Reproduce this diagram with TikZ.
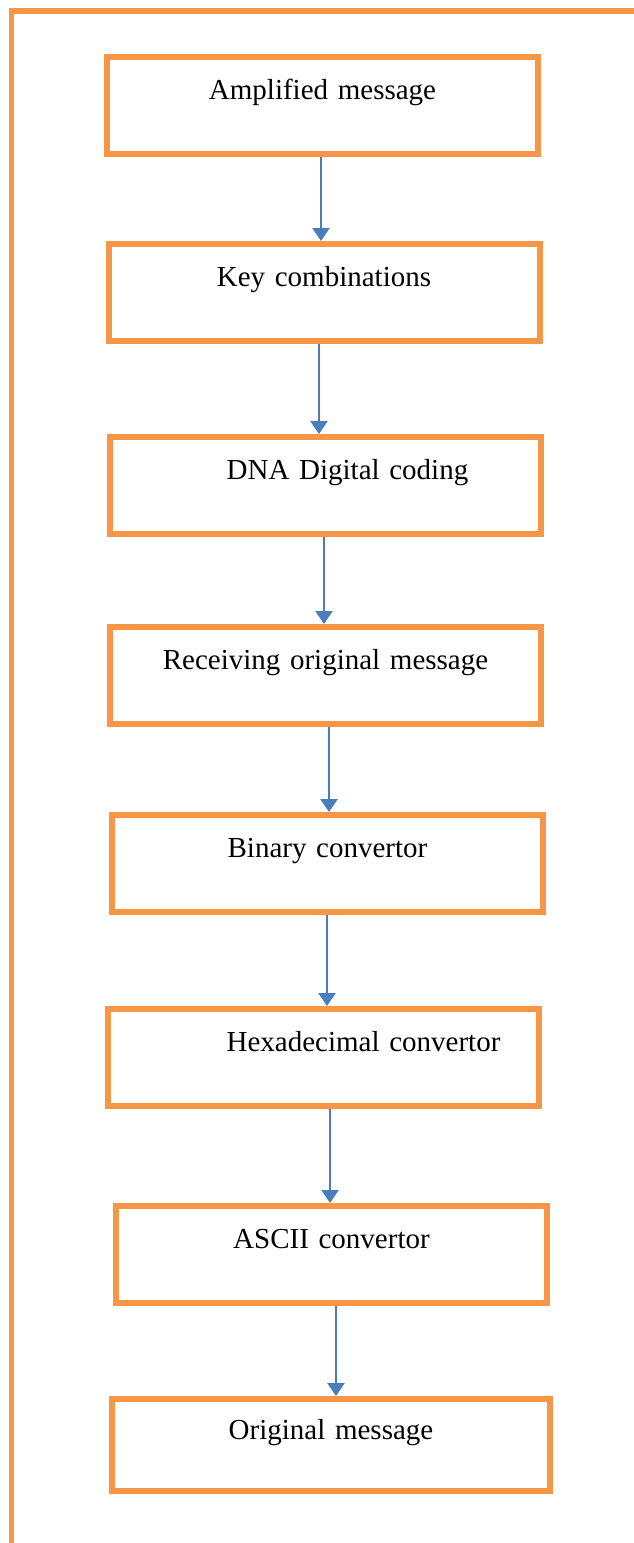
\documentclass[tikz,border=0pt]{standalone}
\usepackage{fontspec}
\setmainfont{Liberation Serif}
\usepackage{xcolor}
\usepackage{tikz}
\usetikzlibrary{arrows.meta,positioning}
\definecolor{boxorange}{RGB}{247,150,70}
\definecolor{flowblue}{RGB}{74,126,187}

\begin{document}
\begin{tikzpicture}[
    x=1pt, y=1pt,
    >={Triangle[width=17pt,length=13pt]},
    stage/.style={draw=boxorange, line width=6pt, inner sep=0pt, text width=431pt, align=center, text height=42.5pt, text depth=54.5pt, font=\fontsize{29}{35}\selectfont},
    flow/.style={->, draw=flowblue, line width=2.5pt},
    frame/.style={draw=boxorange, line width=5.5pt, line join=miter}
]
\useasboundingbox (0,0) rectangle (634,-1543);
\draw[frame] (634,-11) -- (11.5,-11) -- (11.5,-1543);
\node[stage] (amp) at (322.5,-105.5) {Amplified message};
\node[stage, below=84pt of amp, xshift=1.5pt] (keys) {Key combinations};
\node[stage, below=90pt of keys, xshift=1.5pt] (dna) {\hspace*{44pt}DNA Digital coding};
\node[stage, below=87pt of dna] (recv) {Receiving original message};
\node[stage, below=85pt of recv, xshift=2pt] (bin) {Binary convertor};
\node[stage, below=91pt of bin, xshift=-4.5pt] (hex) {\hspace*{81pt}Hexadecimal convertor};
\node[stage, below=94pt of hex, xshift=8.5pt] (ascii) {ASCII convertor};
\node[stage, below=90pt of ascii, xshift=-0.5pt, text width=438pt, text height=40pt, text depth=52pt] (orig) {Original message};
\draw[flow] ([xshift=-1.5pt]amp.south) -- ([xshift=-1.5pt]amp.south |- keys.north);
\draw[flow] ([xshift=-5pt]keys.south) -- ([xshift=-5pt]keys.south |- dna.north);
\draw[flow] ([xshift=-1.5pt]dna.south) -- ([xshift=-1.5pt]dna.south |- recv.north);
\draw[flow] ([xshift=3.5pt]recv.south) -- ([xshift=3.5pt]recv.south |- bin.north);
\draw[flow] ([xshift=-0.5pt]bin.south) -- ([xshift=-0.5pt]bin.south |- hex.north);
\draw[flow] ([xshift=7pt]hex.south) -- ([xshift=7pt]hex.south |- ascii.north);
\draw[flow] ([xshift=4.5pt]ascii.south) -- ([xshift=4.5pt]ascii.south |- orig.north);
\end{tikzpicture}
\end{document}
